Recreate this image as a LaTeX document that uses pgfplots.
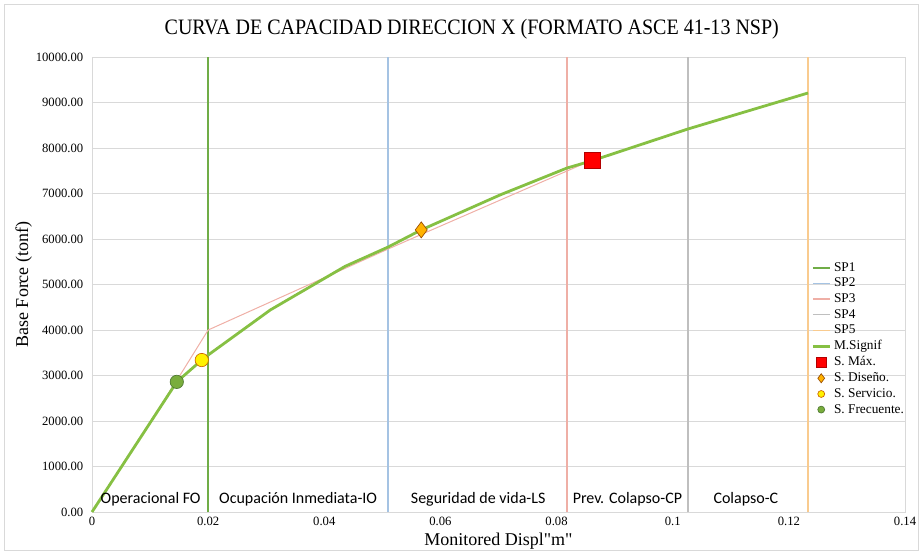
\documentclass[border=0pt]{standalone}
\usepackage{pgfplots}
\pgfplotsset{compat=1.18}
\usepackage{fontspec}
\setmainfont{Liberation Serif}
\newfontfamily\rawserif{Liberation Serif}[Ligatures=TeXOff]
\newfontfamily\calib{Carlito}
\definecolor{sp1}{HTML}{70AD47}
\definecolor{sp2}{HTML}{A5C3E3}
\definecolor{sp3}{HTML}{EFAFA6}
\definecolor{sp4}{HTML}{BFBFBF}
\definecolor{sp5}{HTML}{F9CB8F}
\definecolor{msig}{HTML}{86C043}
\definecolor{gridc}{HTML}{D9D9D9}
\begin{document}
\begin{tikzpicture}[x=0.75pt,y=0.75pt]
\useasboundingbox (-92,-42) rectangle (830,512);
\draw[gridc, line width=0.6pt] (-88,-38) rectangle (826,508);
\begin{axis}[
  at={(0,0)}, anchor=south west,
  scale only axis, width=609.75pt, height=341.25pt,
  xmin=0, xmax=0.14, ymin=0, ymax=10000,
  scaled y ticks=false, scaled x ticks=false,
  xtick={0,0.02,0.04,0.06,0.08,0.1,0.12,0.14},
  xticklabels={0,0.02,0.04,0.06,0.08,0.1,0.12,0.14},
  ytick={0,1000,...,10000},
  yticklabels={0.00,1000.00,2000.00,3000.00,4000.00,5000.00,6000.00,7000.00,8000.00,9000.00,10000.00},
  tick label style={font=\fontsize{9.5}{11}\selectfont},
  yticklabel style={xshift=-3pt},
  major tick length=0pt,
  ymajorgrids, grid style={gridc, line width=0.6pt},
  axis line style={gridc, line width=0.6pt},
  xlabel={{\rawserif Monitored Displ"m"}}, ylabel={Base Force (tonf)},
  label style={font=\fontsize{13.5}{15}\selectfont},
  xlabel style={yshift=1pt},
  ylabel style={yshift=-4pt},
  title={\scalebox{0.91}[1]{CURVA DE CAPACIDAD DIRECCION X (FORMATO ASCE 41-13 NSP)}},
  title style={font=\fontsize{16.5}{18}\selectfont, yshift=4pt, xshift=-20pt},
  legend style={at={(rel axis cs:0.883,0.558)}, anchor=north west, draw=none, fill=none,
    font=\fontsize{10}{11}\selectfont, row sep=-0.4pt, inner sep=1pt},
  legend cell align=left,
  legend image code/.code={\draw[mark repeat=2,mark phase=2,#1] plot coordinates {(0cm,0cm) (0.22cm,0cm) (0.45cm,0cm)};},
  clip=false,
]
\addplot[sp1, line width=1.1pt] coordinates {(0.02,0) (0.02,10000)};
\addlegendentry{SP1}
\addplot[sp2, line width=1.1pt] coordinates {(0.051,0) (0.051,10000)};
\addlegendentry{SP2}
\addplot[sp3, line width=1.1pt] coordinates {(0.0818,0) (0.0818,10000)};
\addlegendentry{SP3}
\addplot[sp4, line width=1.1pt] coordinates {(0.1026,0) (0.1026,10000)};
\addlegendentry{SP4}
\addplot[sp5, line width=1.1pt] coordinates {(0.1233,0) (0.1233,10000)};
\addlegendentry{SP5}
\addplot[sp3, line width=0.75pt, forget plot] coordinates {(0,0) (0.0145,2870) (0.02,4000) (0.051,5780) (0.0567,6100) (0.0855,7700)};
\addplot[msig, line width=2.1pt] coordinates {(0,0) (0.0146,2860) (0.0189,3340) (0.02,3450) (0.0307,4440) (0.0436,5400) (0.051,5824) (0.0567,6200) (0.0703,6970) (0.0818,7560) (0.0861,7720) (0.1026,8417) (0.1233,9209)};
\addlegendentry{M.Signif}
\addplot[only marks, mark=square*, mark size=6pt, mark options={fill=red, draw=red!70!black, line width=0.5pt}, legend image post style={mark size=3.6pt}] coordinates {(0.0861,7720)};
\addlegendentry{S. Máx.}
\addplot[only marks, mark=diamond*, mark size=6pt, mark options={fill=orange!60!yellow, draw=orange!60!black, line width=0.5pt}, legend image post style={mark size=3.4pt}] coordinates {(0.0567,6200)};
\addlegendentry{S. Diseño.}
\addplot[only marks, mark=*, mark size=5pt, mark options={fill=yellow, draw=orange!80!black, line width=0.5pt}, legend image post style={mark size=2.6pt}] coordinates {(0.0189,3340)};
\addlegendentry{S. Servicio.}
\addplot[only marks, mark=*, mark size=5pt, mark options={fill=msig!90!black, draw=sp1!70!black, line width=0.5pt}, legend image post style={mark size=2.6pt}] coordinates {(0.0146,2860)};
\addlegendentry{S. Frecuente.}
\begin{scope}[every node/.style={font=\calib\fontsize{12}{14}\selectfont, anchor=base}]
\node at (axis cs:0.0101,190) {Operacional FO};
\node at (axis cs:0.0355,190) {Ocupación Inmediata-IO};
\node at (axis cs:0.0665,190) {Seguridad de vida-LS};
\node at (axis cs:0.0922,190) {Prev. Colapso-CP};
\node at (axis cs:0.1126,190) {Colapso-C};
\end{scope}
\end{axis}
\end{tikzpicture}
\end{document}
